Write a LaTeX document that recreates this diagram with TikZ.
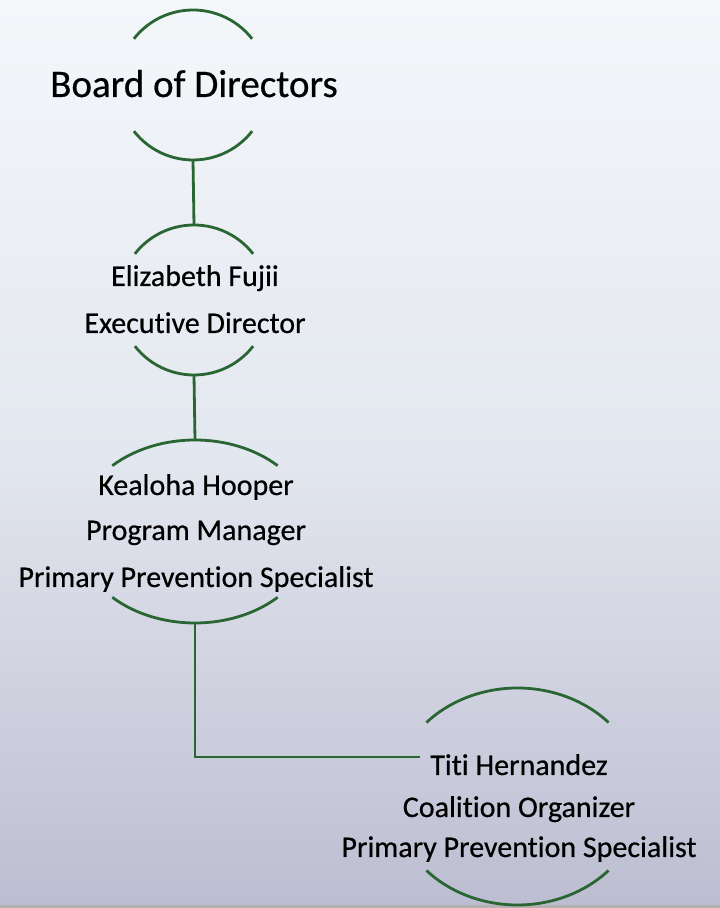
\documentclass[tikz,border=0pt]{standalone}
\usepackage{fontspec}
\setmainfont{Carlito}[Ligatures=NoCommon, FakeBold=0.5]
\usetikzlibrary{calc,shapes.geometric}
\definecolor{orggreen}{HTML}{2A6634}
\definecolor{bgtop}{HTML}{F4F7FA}
\definecolor{bgmid}{HTML}{E3E7EF}
\definecolor{bgbot}{HTML}{BDBDD1}
\def\ringarcs(#1)(#2:#3:#4){%
  \pgfmathsetmacro\ringa{180-#2}\pgfmathsetmacro\ringb{180+#2}\pgfmathsetmacro\ringc{360-#2}%
  \draw[ringline] ($(#1)+(#2:#3 and #4)$) arc[start angle=#2, end angle=\ringa, x radius=#3, y radius=#4];
  \draw[ringline] ($(#1)+(\ringb:#3 and #4)$) arc[start angle=\ringb, end angle=\ringc, x radius=#3, y radius=#4];}

\begin{document}
\begin{tikzpicture}[x=1pt,y=1pt,
  ringline/.style={line width=2.8pt, color=orggreen},
  ring/.style={ellipse, inner sep=0pt, outer sep=0pt},
  bigname/.style={font=\fontsize{39}{46}\selectfont, anchor=base},
  person/.style={font=\fontsize{30}{36}\selectfont, anchor=base}]
			%%%%% START %%%%%
			
			\useasboundingbox (0,0) rectangle (720,908);
			\shade[top color=bgtop, bottom color=bgbot, middle color=bgmid] (0,0) rectangle (720,908);
			\fill[black!30] (0,0) rectangle (720,3);
			
			% rings
			\node[ring, minimum width=150pt, minimum height=150pt] (board) at (193,823) {};
			\node[ring, minimum width=150pt, minimum height=150pt] (fujii) at (194,608) {};
			\node[ring, minimum width=238pt, minimum height=183pt] (hooper) at (195,376.5) {};
			\node[ring, minimum width=249pt, minimum height=217pt] (hernandez) at (517.5,111.5) {};
			
			\ringarcs(board)(38:75pt:75pt)
			\ringarcs(fujii)(38:75pt:75pt)
			\ringarcs(hooper)(46:119pt:91.5pt)
			\ringarcs(hernandez)(43:124.5pt:108.5pt)
			
			% texts
			\node[bigname] (board text) at (194,811) {Board of Directors};
			
			\node[person] (fujii name) at (195,622) {Elizabeth Fujii};
			\node[person] (fujii title) at (195,575) {Executive Director};
			
			\node[person] (hooper name) at (196,413) {Kealoha Hooper};
			\node[person] (hooper title) at (196,368) {Program Manager};
			\node[person] (hooper role) at (196,321) {Primary Prevention Specialist};
			
			\node[person] (hernandez name) at (519,133) {Titi Hernandez};
			\node[person] (hernandez title) at (519,91) {Coalition Organizer};
			\node[person] (hernandez role) at (519,51) {Primary Prevention Specialist};
			\coordinate (hernandez in) at (420,151);
			
			% connectors
			\draw[ringline] (board.south) -- (fujii.north);
			\draw[ringline] (fujii.south) -- (hooper.north);
			\draw[ringline] (hooper.south) |- (hernandez in);
			
			%%%%% END %%%%%
\end{tikzpicture}
\end{document}
